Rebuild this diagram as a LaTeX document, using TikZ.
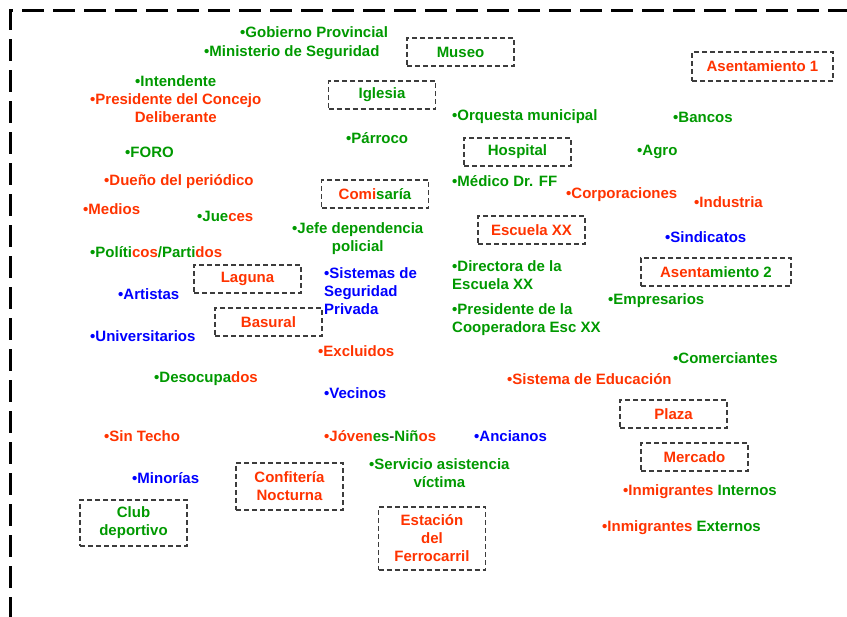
\documentclass[tikz,border=0pt]{standalone}
\usepackage{fontspec}
\setmainfont{Liberation Sans}
\usepackage{xcolor}
\usetikzlibrary{positioning}
\definecolor{actgreen}{RGB}{0,153,0}
\definecolor{actred}{RGB}{255,51,0}
\definecolor{actblue}{RGB}{0,0,255}
\definecolor{boxgray}{RGB}{60,60,60}
\newcommand{\gr}[1]{\textcolor{actgreen}{#1}}
\newcommand{\rd}[1]{\textcolor{actred}{#1}}

\begin{document}
\begin{tikzpicture}[x=1pt, y=-1pt, every node/.style={font=\fontsize{15}{18}\selectfont\bfseries, inner sep=0pt},
  actor/.style={anchor=west},
  green/.style={text=actgreen}, red/.style={text=actred}, blue/.style={text=actblue},
  place/.style={draw=boxgray, dash pattern=on 5pt off 3pt, line width=1.2pt, minimum width=107pt, minimum height=28pt, align=center}]
\useasboundingbox (0,0) rectangle (847,617);
% Frame
\draw[line width=3pt, dash pattern=on 22pt off 9pt, dash phase=2pt] (10,617) -- (10,11) -- (850,11);
% Places
\node[place, green] (museo) at (460.5,52) {Museo};
\node[place, red, minimum width=141pt, minimum height=29pt] (asent1) at (762.5,66.5) {Asentamiento 1};
\node[place, green] (iglesia) at (382,95) {Iglesia};
\node[place, green] (hospital) at (517.5,152) {Hospital};
\node[place] (comisaria) at (375,194) {\rd{Comi}\gr{saría}};
\node[place, red] (escuela) at (531.5,230) {Escuela XX};
\node[place, minimum width=150pt] (asent2) at (716,272) {\rd{Asenta}\gr{miento 2}};
\node[place, red] (laguna) at (247.5,279) {Laguna};
\node[place, red] (basural) at (268.5,322) {Basural};
\node[place, red] (plaza) at (673.5,414) {Plaza};
\node[place, red] (mercado) at (694.5,457) {Mercado};
\node[place, red, minimum height=47pt, text depth=0pt] (confiteria) at (289.5,486.5) {Confitería\\Nocturna};
\node[place, green, minimum height=46pt] (club) at (133.5,523) {Club\\deportivo};
\node[place, red, minimum height=63pt] (estacion) at (432,538.5) {Estación\\del\\Ferrocarril};
% Actors (top)
\node[actor, green] (gobierno) at (240,32) {•Gobierno Provincial};
\node[actor, green] (ministerio) at (204,53) {•Ministerio de Seguridad};
\node[actor, green] (intendente) at (135,81) {•Intendente};
\node[actor, red, align=center] (concejo) at (90,108.5) {•Presidente del Concejo\\Deliberante};
\node[actor, green] (orquesta) at (452,117) {•Orquesta municipal};
\node[actor, green] (bancos) at (673,117) {•Bancos};
\node[actor, green] (parroco) at (346,138) {•Párroco};
\node[actor, green] (agro) at (637,152) {•Agro};
\node[actor, green] (foro) at (125,152) {•FORO};
\node[actor, green] (medico) at (452,181) {•Médico Dr. FF};
\node[actor, red] (duenio) at (104,182) {•Dueño del periódico};
\node[actor, red] (corpo) at (566,195) {•Corporaciones};
\node[actor, red] (industria) at (694,202) {•Industria};
% Actors (middle)
\node[actor, red] (medios) at (83,209) {•Medios};
\node[actor] (jueces) at (197,216) {\gr{•Jue}\rd{ces}};
\node[actor, green, align=center] (jefe) at (292,239) {•Jefe dependencia\\policial};
\node[actor, blue] (sindicatos) at (665,237) {•Sindicatos};
\node[actor] (politicos) at (90,252) {\gr{•Políti}\rd{cos}\gr{/Parti}\rd{dos}};
\node[actor, green, align=left] (directora) at (452,275) {•Directora de la\\Escuela XX};
\node[actor, blue, align=left] (sistemas) at (324,291) {•Sistemas de\\Seguridad\\Privada};
\node[actor, blue] (artistas) at (118,294) {•Artistas};
\node[actor, green] (empresarios) at (608,301) {•Empresarios};
\node[actor, green, align=left] (cooperadora) at (452,320) {•Presidente de la\\Cooperadora Esc XX};
\node[actor, blue] (universitarios) at (90,336) {•Universitarios};
\node[actor, red] (excluidos) at (318,351) {•Excluidos};
\node[actor, green] (comerciantes) at (673,358) {•Comerciantes};
% Actors (bottom)
\node[actor] (desocupados) at (154,379) {\gr{•Desocupa}\rd{dos}};
\node[actor, red] (educacion) at (507,379) {•Sistema de Educación};
\node[actor, blue] (vecinos) at (324,393) {•Vecinos};
\node[actor, red] (sintecho) at (104,436) {•Sin Techo};
\node[actor] (jovenes) at (324,436) {\rd{•Jóven}\gr{es}\textcolor{boxgray}{-}\gr{Niñ}\rd{os}};
\node[actor, blue] (ancianos) at (474,436) {•Ancianos};
\node[actor, green, align=center] (servicio) at (369,473) {•Servicio asistencia\\víctima};
\node[actor, blue] (minorias) at (132,478) {•Minorías};
\node[actor] (internos) at (623,492) {\rd{•Inmigrantes} \gr{Internos}};
\node[actor] (externos) at (602,528) {\rd{•Inmigrantes} \gr{Externos}};
\end{tikzpicture}
\end{document}
